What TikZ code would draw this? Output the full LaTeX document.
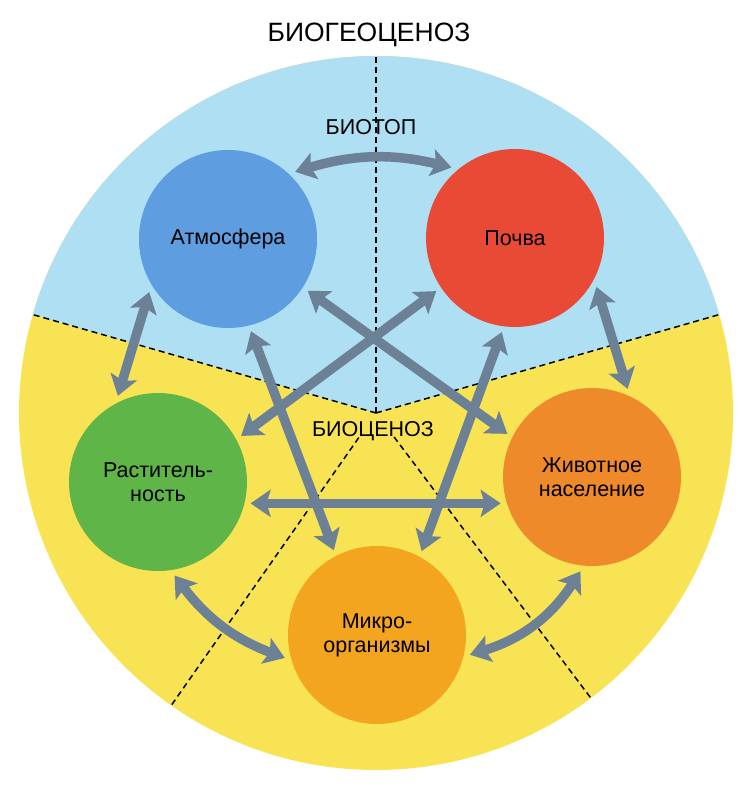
\documentclass[tikz,border=0pt]{standalone}
\usepackage{fontspec}
\setmainfont{Liberation Sans}
\usetikzlibrary{arrows.meta,calc}
\definecolor{bgblue}{HTML}{AEDFF3}
\definecolor{bgyellow}{HTML}{F8E355}
\definecolor{atmc}{HTML}{5E9DE0}
\definecolor{pochc}{HTML}{E94A35}
\definecolor{rastc}{HTML}{5FB548}
\definecolor{zhivc}{HTML}{EF8A2A}
\definecolor{mikrc}{HTML}{F4A520}
\definecolor{arrowc}{HTML}{6C8196}
\tikzset{
  sphere/.style={circle, minimum size=178pt, inner sep=0pt, outer sep=6pt, align=center,
    font=\fontsize{21.5}{24}\selectfont, text=black},
  link/.style={draw=arrowc, line width=9.5pt,
    {Stealth[length=20pt,width=27pt,inset=4pt]}-{Stealth[length=20pt,width=27pt,inset=4pt]}},
  sectorline/.style={draw=black, line width=1.5pt, dash pattern=on 6pt off 4pt},
  lbl/.style={font=\fontsize{21.5}{25}\selectfont, anchor=base, inner sep=0pt, text=black}
}
\begin{document}
\begin{tikzpicture}[x=1pt,y=1pt]
\useasboundingbox (0,0) rectangle (749,791);
\coordinate (O) at (376,378);
% background disc and sectors
\fill[bgyellow] (O) circle[radius=357pt];
\begin{scope}
  \clip (O) circle[radius=357pt];
  \fill[bgblue] (O) -- ($(O)+(16:500pt)$) -- ($(O)+(54:600pt)$) -- ($(O)+(90:600pt)$)
     -- ($(O)+(126:600pt)$) -- ($(O)+(164:500pt)$) -- cycle;
\end{scope}
\draw[sectorline] (O) -- ($(O)+(90:357pt)$);
\draw[sectorline] (O) -- ($(O)+(16:357pt)$);
\draw[sectorline] (O) -- ($(O)+(164:357pt)$);
\draw[sectorline] ($(O)+(235:30pt)$) -- ($(O)+(235:357pt)$);
\draw[sectorline] ($(O)+(307:30pt)$) -- ($(O)+(307:357pt)$);
% spheres
\node[sphere, fill=atmc] (A) at (228,552) {Атмосфера};
\node[sphere, fill=pochc] (P) at (515,553) {Почва};
\node[sphere, fill=rastc] (R) at (158,309) {Раститель-\\ность};
\node[sphere, fill=zhivc] (Z) at (592,314) {Животное\\население};
\node[sphere, fill=mikrc] (M) at (377,156) {Микро-\\организмы};
% links
\draw[link] (A.45) to[bend left=15] (P.132);
\draw[link] (A.214) -- (R.115);
\draw[link] (P.-31) -- (Z.68);
\draw[link] (A.-33) -- (Z.153);
\draw[link] (P.214) -- (R.29);
\draw[link] (A.-76) -- (M.117);
\draw[link] (P.262) -- (M.62);
\draw[link] (R.-13) -- (R.-13 -| Z.196);
\draw[link] (R.-80) to[bend right=16] (M.194);
\draw[link] (Z.263) to[bend left=20] (M.-12);
% labels
\node[lbl, font=\fontsize{26.5}{30}\selectfont] (title) at (369,749) {БИОГЕОЦЕНОЗ};
\node[lbl] (biotop) at (371,656) {БИОТОП};
\node[lbl] (biocen) at (373,354) {БИОЦЕНОЗ};
\end{tikzpicture}
\end{document}
